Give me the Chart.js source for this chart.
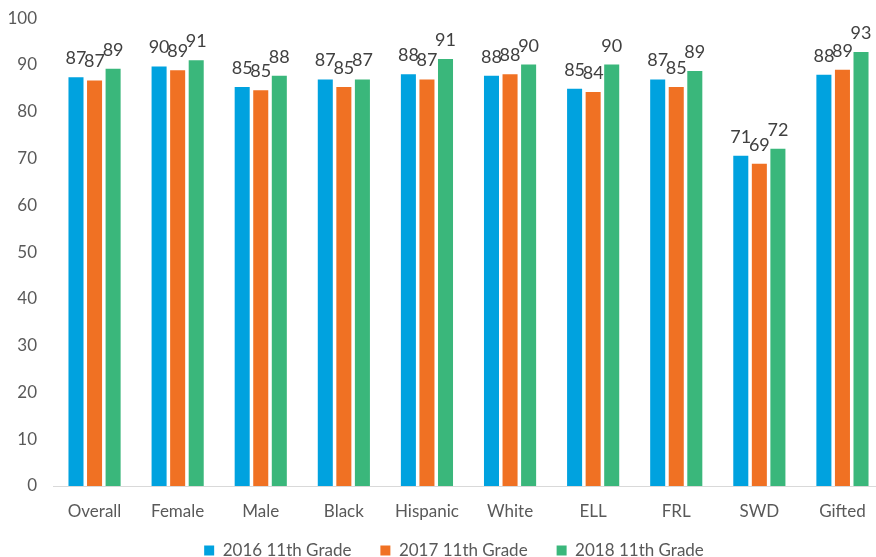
<!DOCTYPE html>
<html>
<head>
<meta charset="utf-8">
<script src="https://cdn.jsdelivr.net/npm/chart.js@4"></script>
<style>
  html, body { margin: 0; padding: 0; background: #fff; overflow: hidden; }
  #wrap { width: 876px; height: 557px; overflow: hidden; }
</style>
</head>
<body>
<div id="wrap"><canvas id="chart" width="884" height="578"></canvas></div>
<script>
const categories = ['Overall', 'Female', 'Male', 'Black', 'Hispanic', 'White', 'ELL', 'FRL', 'SWD', 'Gifted'];
const grade2016 = [87.4, 89.7, 85.3, 86.9, 88.0, 87.7, 84.9, 86.9, 70.6, 87.9];
const grade2017 = [86.7, 88.9, 84.6, 85.3, 86.9, 88.0, 84.2, 85.3, 68.9, 89.0];
const grade2018 = [89.2, 91.0, 87.7, 86.9, 91.3, 90.1, 90.1, 88.7, 72.1, 92.8];
const seriesNames = ['2016 11th Grade', '2017 11th Grade', '2018 11th Grade'];
const seriesColors = ['#00A2DF', '#F07123', '#3AB77B'];
const yTicks = [0, 10, 20, 30, 40, 50, 60, 70, 80, 90, 100];

const fontFamily = 'Lato, "Open Sans", sans-serif';

// draw the rounded value above every bar
const valueLabels = {
    id: 'valueLabels',
    afterDatasetsDraw(chart) {
        const ctx = chart.ctx;
        ctx.save();
        ctx.font = `18px ${fontFamily}`;
        ctx.fillStyle = '#404040';
        ctx.textAlign = 'center';
        ctx.textBaseline = 'alphabetic';
        chart.data.datasets.forEach((ds, i) => {
            chart.getDatasetMeta(i).data.forEach((bar, j) => {
                ctx.fillText(Math.round(ds.data[j]), bar.x, bar.y - 13);
            });
        });
        ctx.restore();
    }
};

// nudge the legend a bit up and to the right, like the original
const legendNudge = {
    id: 'legendNudge',
    afterLayout(chart) {
        const lg = chart.legend;
        if (!lg) return;
        lg.top -= 9;
        lg.bottom -= 9;
        lg.left += 12;
        lg.right += 12;
    }
};

const datasets = [grade2016, grade2017, grade2018].map((values, i) => ({
    label: seriesNames[i],
    data: values,
    backgroundColor: seriesColors[i],
    borderWidth: 0,
    categoryPercentage: 0.67,
    barPercentage: 0.81
}));

new Chart(document.getElementById('chart').getContext('2d'), {
    type: 'bar',
    data: { labels: categories, datasets },
    options: {
        responsive: false,
        animation: false,
        layout: { padding: { top: 11, right: 0, left: 0, bottom: 0 } },
        scales: {
            x: {
                grid: { display: false },
                border: { display: true, color: '#D9D9D9', width: 1 },
                ticks: { color: '#595959', font: { family: fontFamily, size: 17 }, padding: 7 },
                afterFit: (s) => { s.height = 36; }
            },
            y: {
                min: 0,
                max: 100,
                afterBuildTicks: (s) => { s.ticks = yTicks.map(v => ({ value: v })); },
                grid: { display: false },
                border: { display: false },
                ticks: { color: '#595959', font: { family: fontFamily, size: 17 }, padding: 8 },
                afterFit: (s) => { s.width = 53; }
            }
        },
        plugins: {
            legend: {
                position: 'bottom',
                labels: {
                    boxWidth: 10,
                    boxHeight: 10,
                    padding: 29,
                    color: '#595959',
                    font: { family: fontFamily, size: 17 }
                }
            },
            tooltip: { enabled: false }
        }
    },
    plugins: [valueLabels, legendNudge]
});
</script>
</body>
</html>
